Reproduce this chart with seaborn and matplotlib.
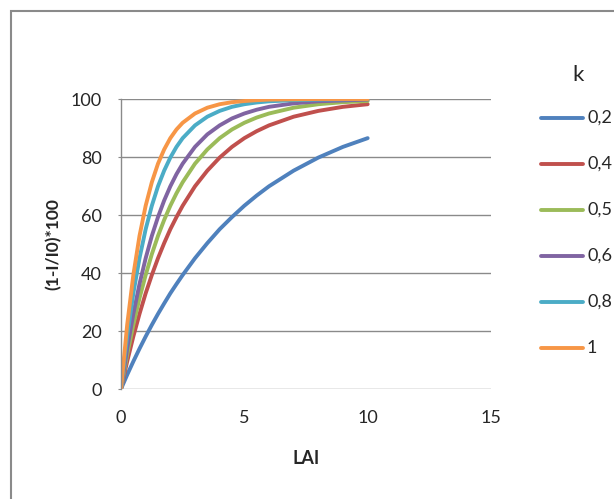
import pandas as pd
import matplotlib.pyplot as plt
import seaborn as sns
from matplotlib.lines import Line2D
from matplotlib.patches import Rectangle

lai = [0, 0.25, 0.5, 0.75, 1, 1.25, 1.5, 1.75, 2, 2.25, 2.5, 3, 3.5, 4, 4.5, 5, 5.5, 6, 7, 8, 9, 10]
k_02 = [0, 4.9, 9.5, 13.9, 18.1, 22.1, 25.9, 29.5, 33.0, 36.2, 39.3, 45.1, 50.3, 55.1, 59.3, 63.2, 66.7, 69.9, 75.3, 79.8, 83.5, 86.5]
k_04 = [0, 9.5, 18.1, 25.9, 33.0, 39.3, 45.1, 50.3, 55.1, 59.3, 63.2, 69.9, 75.3, 79.8, 83.5, 86.5, 88.9, 90.9, 93.9, 95.9, 97.3, 98.2]
k_05 = [0, 11.8, 22.1, 31.3, 39.3, 46.5, 52.8, 58.3, 63.2, 67.5, 71.3, 77.7, 82.6, 86.5, 89.5, 91.8, 93.6, 95.0, 97.0, 98.2, 98.9, 99.3]
k_06 = [0, 13.9, 25.9, 36.2, 45.1, 52.8, 59.3, 65.0, 69.9, 74.1, 77.7, 83.5, 87.8, 90.9, 93.3, 95.0, 96.3, 97.3, 98.5, 99.2, 99.5, 99.8]
k_08 = [0, 18.1, 33.0, 45.1, 55.1, 63.2, 69.9, 75.3, 79.8, 83.5, 86.5, 90.9, 93.9, 95.9, 97.3, 98.2, 98.8, 99.2, 99.6, 99.8, 99.9, 100.0]
k_10 = [0, 22.1, 39.3, 52.8, 63.2, 71.3, 77.7, 82.6, 86.5, 89.5, 91.8, 95.0, 97.0, 98.2, 98.9, 99.3, 99.6, 99.8, 99.9, 100.0, 100.0, 100.0]

etiquetas = ['0,2', '0,4', '0,5', '0,6', '0,8', '1']
series = [k_02, k_04, k_05, k_06, k_08, k_10]
colores = ['#4F81BD', '#C0504D', '#9BBB59', '#8064A2', '#4BACC6', '#F79646']

filas = []
for etq, valores in zip(etiquetas, series):
    for x, y in zip(lai, valores):
        filas.append({'LAI': x, 'valor': y, 'k': etq})
df = pd.DataFrame(filas)

sns.set_style('white')
plt.rcParams['font.family'] = ['Lato', 'DejaVu Sans']

W, H = 614, 499
fig = plt.figure(figsize=(W / 100, H / 100), dpi=100)
# área de trazado: x 121..491 px, y 99..389 px
ax = fig.add_axes([121 / W, 1 - 389 / H, 370 / W, 290 / H])

sns.lineplot(data=df, x='LAI', y='valor', hue='k', palette=colores,
             linewidth=2.8, ax=ax, legend=False,
             solid_capstyle='round', solid_joinstyle='round')

ax.set_xlim(0, 15)
ax.set_ylim(0, 100)
ax.set_xticks([0, 5, 10, 15])
ax.set_yticks([0, 20, 40, 60, 80, 100])
ax.grid(axis='y', color='#8a8a8a', linewidth=1)
ax.set_axisbelow(True)
for lado in ['top', 'right', 'bottom']:
    ax.spines[lado].set_visible(False)
ax.spines['left'].set_color('#8a8a8a')
ax.spines['left'].set_linewidth(1)
ax.tick_params(axis='y', length=2, color='#8a8a8a', labelsize=13, pad=12, left=True)
ax.tick_params(axis='x', length=0, labelsize=13, pad=15)

ax.set_xlabel('LAI', fontsize=13, fontweight='bold')
ax.set_ylabel('(1-I/I0)*100', fontsize=12.5, fontweight='bold')
ax.xaxis.set_label_coords(0.5, (389 - 450) / 290)
ax.yaxis.set_label_coords((62 - 121) / 370, 0.5)

# leyenda (a mano, como en Excel)
fig.text(578 / W, 1 - 75 / H, 'k', fontsize=16, ha='center', va='center')
for i, (etq, c) in enumerate(zip(etiquetas, colores)):
    yy = 1 - (118 + 46 * i) / H
    fig.add_artist(Line2D([541 / W, 583 / W], [yy, yy], color=c, linewidth=2.8,
                          solid_capstyle='round', transform=fig.transFigure))
    fig.text(587 / W, yy, etq, fontsize=13, ha='left', va='center')

# marco exterior del gráfico
fig.patches.append(Rectangle((11 / W, -0.1), 1.2, 1.1 - 11 / H,
                             transform=fig.transFigure, fill=False,
                             edgecolor='#8a8a8a', linewidth=1.5))

fig.savefig('out.png', dpi=100)
